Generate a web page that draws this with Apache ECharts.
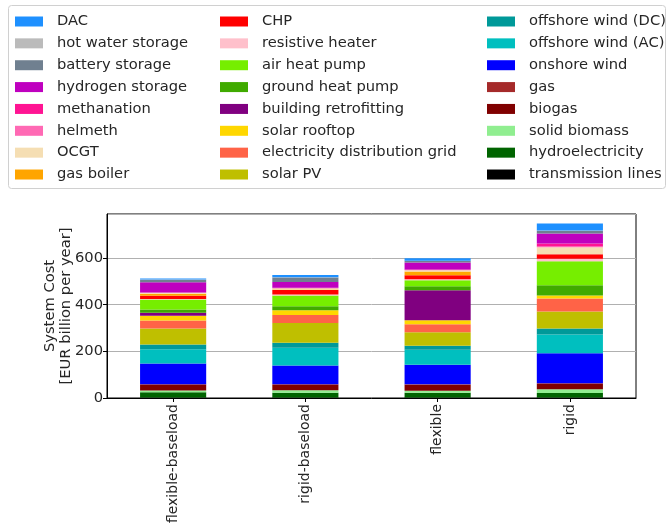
<!DOCTYPE html>
<html>
<head>
<meta charset="utf-8">
<script src="https://cdn.jsdelivr.net/npm/echarts@6/dist/echarts.min.js"></script>
<style>
  html, body { margin: 0; padding: 0; background: #ffffff; }
  #chart { width: 667px; height: 527px; }
</style>
</head>
<body>
<div id="chart"></div>
<script>
// Scenarios on the x axis
const categories = ['flexible-baseload', 'rigid-baseload', 'flexible', 'rigid'];

// Annual system cost per technology, EUR billion per year (one value per scenario)
const transmissionLines    = [2, 2, 2, 2];
const hydroelectricity     = [23, 21, 20, 19];
const solidBiomass         = [7, 10, 9, 17];
const biogas               = [24, 23, 26, 22];
const gas                  = [3, 3, 2, 3];
const onshoreWind          = [89, 80, 84, 129];
const offshoreWindAC       = [61, 77, 64, 80];
const offshoreWindDC       = [20, 21, 17, 26];
const solarPV              = [69, 85, 58, 73];
const distributionGrid     = [34, 34, 34, 56];
const solarRooftop         = [21, 20, 17, 13];
const buildingRetrofitting = [13, 0, 129, 0];
const groundHeatPump       = [13, 17, 17, 43];
const airHeatPump          = [43, 47, 26, 103];
const resistiveHeater      = [2, 4, 4, 11];
const chp                  = [14, 19, 17, 19];
const gasBoiler            = [9, 2, 16, 0];
const ocgt                 = [4, 6, 6, 30];
const helmeth              = [0, 0, 1, 4];
const methanation          = [1, 2, 2, 12];
const hydrogenStorage      = [44, 24, 30, 43];
const batteryStorage       = [10, 20, 7, 12];
const hotWaterStorage      = [2, 1, 1, 1];
const dac                  = [4, 9, 10, 30];

// Value axis ticks
const yTicks = [0, 200, 400, 600];
const yMax = 789;

// Stack order, bottom to top: [name, values, colour]
const stack = [
  ['transmission lines', transmissionLines, '#000000'],
  ['hydroelectricity', hydroelectricity, '#006400'],
  ['solid biomass', solidBiomass, '#90EE90'],
  ['biogas', biogas, '#800000'],
  ['gas', gas, '#A52A2A'],
  ['onshore wind', onshoreWind, '#0000FF'],
  ['offshore wind (AC)', offshoreWindAC, '#00BFBF'],
  ['offshore wind (DC)', offshoreWindDC, '#009999'],
  ['solar PV', solarPV, '#BFBF00'],
  ['electricity distribution grid', distributionGrid, '#FF6347'],
  ['solar rooftop', solarRooftop, '#FFD700'],
  ['building retrofitting', buildingRetrofitting, '#800080'],
  ['ground heat pump', groundHeatPump, '#40AA00'],
  ['air heat pump', airHeatPump, '#76EE00'],
  ['resistive heater', resistiveHeater, '#FFC0CB'],
  ['CHP', chp, '#FF0000'],
  ['gas boiler', gasBoiler, '#FFA500'],
  ['OCGT', ocgt, '#F5DEB3'],
  ['helmeth', helmeth, '#FF69B4'],
  ['methanation', methanation, '#FF1493'],
  ['hydrogen storage', hydrogenStorage, '#BF00BF'],
  ['battery storage', batteryStorage, '#708090'],
  ['hot water storage', hotWaterStorage, '#BBBBBB'],
  ['DAC', dac, '#1E90FF']
];

// Legend lists top-to-bottom in three columns (reverse of stack order)
const legendOrder = stack.map(s => s[0]).reverse();
const legendCols = [legendOrder.slice(0, 8), legendOrder.slice(8, 16), legendOrder.slice(16, 24)];
const legendX = [15, 220, 487];

const FONT = 'DejaVu Sans';
const FS = 14.7;
const TEXT = '#262626';

const chart = echarts.init(document.getElementById('chart'), null, { renderer: 'canvas' });

const legends = legendCols.map((names, i) => ({
  data: names,
  orient: 'vertical',
  left: legendX[i],
  top: 14,
  padding: 0,
  itemWidth: 28,
  itemHeight: 10,
  itemGap: 6.86,
  icon: 'rect',
  selectedMode: false,
  textStyle: {
    fontFamily: FONT, fontSize: FS, color: TEXT, lineHeight: 14,
    padding: [0, 0, 0, 9]
  }
}));

const option = {
  backgroundColor: '#ffffff',
  animation: false,
  textStyle: { fontFamily: FONT },
  graphic: [{
    type: 'rect', left: 8, top: 5, z: -1,
    shape: { width: 657, height: 183, r: 3 },
    style: { fill: '#ffffff', stroke: '#d0d0d0', lineWidth: 1 }
  }],
  legend: legends,
  grid: {
    left: 107, right: 31, top: 214, bottom: 129,
    outerBoundsMode: 'none',
    containLabel: false,
    show: true, borderColor: '#000000', borderWidth: 1, backgroundColor: 'transparent'
  },
  xAxis: {
    type: 'category',
    data: categories,
    axisLine: { show: true, lineStyle: { color: '#000000', width: 1 } },
    axisTick: { show: true, alignWithLabel: true, length: 4, lineStyle: { color: '#000000' } },
    axisLabel: {
      rotate: 90, margin: 6, interval: 0,
      fontFamily: FONT, fontSize: 14, color: TEXT
    },
    splitLine: { show: false }
  },
  yAxis: {
    type: 'value',
    min: 0, max: yMax, interval: 200,
    name: 'System Cost\n[EUR billion per year]',
    nameLocation: 'middle',
    nameRotate: 90,
    nameGap: 33,
    nameMoveOverlap: false,
    nameTextStyle: { fontFamily: FONT, fontSize: FS, color: TEXT, lineHeight: 16 },
    axisLine: { show: true, lineStyle: { color: '#000000', width: 1 } },
    axisTick: { show: true, length: 4, lineStyle: { color: '#000000' } },
    axisLabel: {
      margin: 4, fontFamily: FONT, fontSize: FS, color: TEXT,
      showMaxLabel: false,
      formatter: v => (yTicks.indexOf(v) >= 0 ? String(v) : '')
    },
    splitLine: { show: true, lineStyle: { color: '#b0b0b0', width: 1 } }
  },
  series: stack.map(([name, values, color]) => ({
    name: name,
    type: 'bar',
    stack: 'cost',
    data: values,
    barWidth: '50%',
    itemStyle: { color: color },
    emphasis: { disabled: true }
  }))
};

chart.setOption(option);
</script>
</body>
</html>
